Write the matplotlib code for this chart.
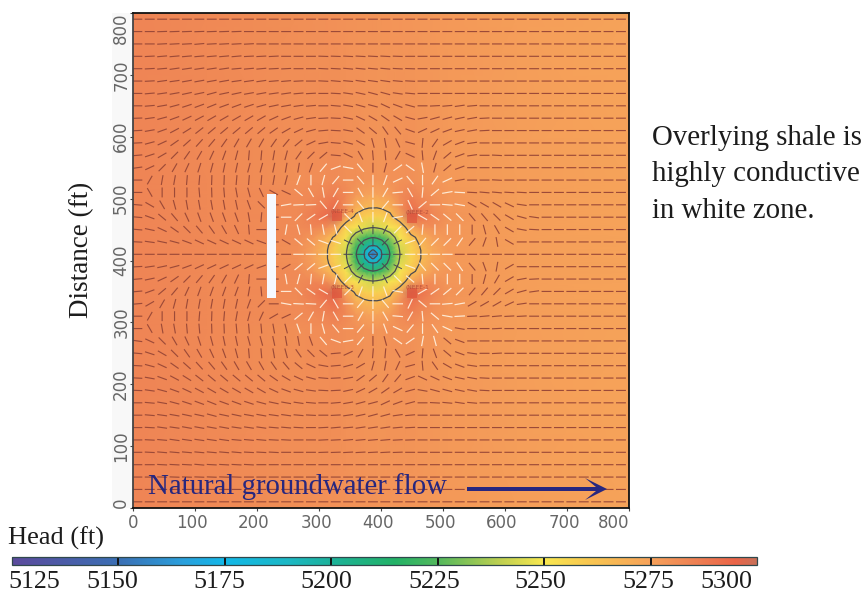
import numpy as np
import matplotlib
matplotlib.use("Agg")
import matplotlib.pyplot as plt
from matplotlib.colors import LinearSegmentedColormap, Normalize
from matplotlib.patches import Rectangle, Polygon
from matplotlib.transforms import ScaledTranslation

W, H = 868, 594
SERIF = "Liberation Serif"
nan = float("nan")

# Axis labels and colour-bar values
tick_values = [0, 100, 200, 300, 400, 500, 600, 700, 800]
head_levels = [5150, 5175, 5200, 5225, 5250, 5275]
head_labels = ["5125", "5150", "5175", "5200", "5225", "5250", "5275", "5300"]
contour_levels = [5172, 5194, 5217, 5242, 5265]

# Colour scale
cmap_heads = [5125, 5150, 5165, 5175, 5190, 5200, 5215, 5225, 5240, 5250, 5260, 5275, 5285, 5295, 5300]
cmap_colors = ["#5b4a9c", "#3a6fb4", "#2a9fdc", "#12b8e8", "#1cb8c4", "#1cb29a", "#22b266", "#52b85c",
               "#c0d050", "#f8e850", "#f8c850", "#f6a25a", "#ee8254", "#ea6448", "#c87058"]

# Head change around the centre well, one quadrant
near_offsets_px = [0, 4, 9, 17, 27, 38, 47, 60, 75]
near_head = [
    [-145, -110, -85, -62, -37, -22, -14, -5, 0],
    [-110, -102, -82, -60, -36, -22, -14, -5, 0],
    [-85, -82, -74, -56, -34, -21, -13, -4, 0],
    [-62, -60, -56, -46, -28, -17, -10, -2, 1],
    [-37, -36, -34, -28, -23, -5, 1, 3, 1],
    [-22, -22, -21, -17, -5, 25, 12, 6, 2],
    [-14, -14, -13, -10, 1, 12, 8, 4, 1],
    [-5, -5, -4, -2, 3, 6, 4, 2, 1],
    [0, 0, 0, 1, 1, 2, 1, 1, 0],
]
ambient_head = [5284, 5282.6, 5280.9, 5280.6, 5280.4, 5280.2, 5280, 5279.8, 5279.7, 5279.6, 5279.5,
                5279.4, 5279.3, 5279.1, 5278.9, 5278.6, 5278.4, 5278.1, 5277.8, 5276.2, 5274.5]

# Flow-line direction (degrees) on the 20-ft grid, rows top to centre
angle_rows = [
    [],
    [0, 0, 2, 2, 2, 2, 2, 2, 2],
    [0, 0, 3, 3, 3, 5, 3, 3, 3, 3],
    [0, 3, 5, 5, 5, 5, 5, 5, 5, 3, 3, 3, 0, 0, 0, -2, -2, -3, -3, -3, -3, -2],
    [0, 3, 5, 8, 8, 8, 8, 8, 5, 5, 5, 3, 3, 0, 0, -3, -3, -5, -5, -5, -5, -3, -2],
    [0, 3, 8, 8, 10, 10, 10, 10, 8, 8, 8, 5, 5, 3, 0, -3, -5, -5, -8, -8, -8, -5, -3],
    [0, 5, 8, 10, 12, 12, 15, 12, 12, 10, 10, 8, 8, 5, 3, 0, -3, -8, -12, -15, -15, -8, -5, 0],
    [0, 5, 10, 15, 18, 20, 22, 20, 20, 18, 15, 12, 10, 8, 5, 0, -5, -10, -15, -15, -25, -20, -15, 0, 3, 5, 8, 5],
    [2, 8, 15, 20, 25, 28, 30, 30, 30, 30, 30, 25, 20, 15, 8, 3, -3, -12, -25, -30, -35, -30, -15, 10, 15, 15, 12, 10, 3],
    [3, 10, 20, 28, 32, 38, 40, 40, 40, 40, 40, 35, 30, 25, 15, 5, -3, -10, -35, -40, -55, -50, -20, 25, 25, 20, 12, 10, 3],
    [3, 15, 25, 35, 42, 48, 50, 55, 60, 60, 60, 55, 50, 40, 25, 10, -5, -15, -30, -75, -80, -65, -15, 85, 55, 30, 20, 8],
    [5, 18, 30, 45, 55, 60, 65, 70, 75, 85, 85, 80, 75, 55, 45, 40, -5, -25, -60, -85, -85, 60, -25, -85, 70, 40, 20, 8, 0, -3],
    [8, 25, 45, 60, 65, 72, 75, 78, 78, 75, 75, 78, 80, 80, 70, 50, 20, -10, -50, -90, 75, 35, -35, -80, 75, 40, 20],
    [0, 60, 80, 80, 85, 85, 88, 88, 85, 85, 85, 80, 75, 70, 90, 75, 50, 0, -50, 90, 70, 25, -50, 90, 55, 25, 10, 0, 0, -3],
    [0, -60, 90, 90, 90, -85, -88, -85, -80, -75, -65, -30, -25, -40, -60, -80, 60, 0, -60, 90, 60, 5, -60, 85, 40, 10, -3, -3, -5, -5, -3, -3],
    [-5, -30, -60, -75, -80, -80, -80, -80, -78, -70, -45, 0, 10, 3, 3, -50, 60, 0, -50, 90, 50, 0, -65, 40, 0, -5, -10, -30, -30, -30, -25, -8],
    [-5, -20, -40, -50, -65, -70, -70, -70, -70, -80, 85, 0, 0, 45, 35, 30, nan, -45, -70, 90, 70, 10, nan, -30, -35, -40, -45, -50, -50, -45, -30, -15, -8],
    [-5, -12, -25, -35, -45, -50, -55, -60, -65, -85, 0, 0, 80, -75, -85, -80, -75, -45, -63, 90, 63, 45, 40, 85, 90, 90, -90, -90, -75, -60, -30, -10, -3],
    [-3, -8, -12, -15, -20, -25, -25, -25, -25, -25, -20, 0, -30, -40, -40, -20, -18, -27, -45, 90, 45, 27, 20, 50, 45, 45, 55, 50, 70, -80, -30, 0],
]

# Feature locations in feet
well_xy = [(329, 472), (450, 469), (329, 348), (450, 348)]
well_names = ["(NEEE-4", "(NEEE-2", "(NEEE-3", "(NEEE-1"]
centre_xy = (387, 410)
wall_x = (216, 231)
wall_y = (339, 508)

fig = plt.figure(figsize=(W / 100, H / 100), dpi=100, facecolor="white")


def pxbox(x0, y0, x1, y1):
    return [x0 / W, 1 - y1 / H, (x1 - x0) / W, (y1 - y0) / H]


def ftext(x, y, s, **kw):
    kw.setdefault("family", SERIF)
    kw.setdefault("color", "#1c1c1c")
    return fig.text(x / W, 1 - y / H, s, **kw)


# Faint label background
fig.add_artist(Rectangle((112 / W, 1 - 508 / H), 20 / W, 495 / H, transform=fig.transFigure,
                         facecolor="#f8f8f8", edgecolor="none", zorder=0))

ax = fig.add_axes(pxbox(133, 13, 629, 508))
ax.set_xlim(0, 800)
ax.set_ylim(0, 800)

stops = [(v - cmap_heads[0]) / (cmap_heads[-1] - cmap_heads[0]) for v in cmap_heads]
cmap = LinearSegmentedColormap.from_list("head", list(zip(stops, cmap_colors)), N=1024)
norm = Normalize(cmap_heads[0], cmap_heads[-1])

# Head surface
ft_per_px = 800 / 496
off = np.array(near_offsets_px) * ft_per_px
signed = np.r_[-off[:0:-1], off]
x_nodes = np.r_[0, 120, centre_xy[0] + signed, 620, 800]
y_nodes = np.r_[0, centre_xy[1] + signed, 800]
q = np.array(near_head, float)
top = np.vstack([q[:0:-1], q])
full = np.hstack([top[:, :0:-1], top])
full = np.pad(full, ((1, 1), (2, 2)))
Z = full + np.array(ambient_head)[None, :]
ax.pcolormesh(x_nodes, y_nodes, Z, cmap=cmap, norm=norm, shading="gouraud", zorder=1)
ax.contour(x_nodes, y_nodes, Z, levels=contour_levels, colors="#4a4a52", linewidths=0.9, zorder=3)

# Well squares
ax.scatter([p[0] for p in well_xy], [p[1] for p in well_xy], marker="s", s=55, color="#e2553c",
           alpha=0.75, linewidths=0, zorder=2)

# Flow lines
rows = [r + [0] * (40 - len(r)) for r in angle_rows]
upper = np.array(rows, float)
middle = np.zeros((1, 40))
lower = -upper[::-1]
bottom = np.zeros((1, 40))
angles = np.vstack([upper, middle, lower, bottom])
gx = 7 + 20 * np.arange(40)
gy = 790 - 20 * np.arange(40)
GX, GY = np.meshgrid(gx, gy)
dist_well = np.min([np.hypot(GX - a, GY - b) for a, b in well_xy], axis=0)
dist_centre = np.hypot(GX - centre_xy[0], GY - centre_xy[1])
white = dist_well < 88
dark = dist_centre < 48
groups = [(~white & ~dark, "#9c4a38", 16, 1.15, 1.0), (white & ~dark, "#fff3e2", 17, 1.2, 0.9),
          (dark, "#4a4a52", 15, 1.0, 1.0)]
for mask, col, length, lw, alpha in groups:
    th = np.radians(angles[mask])
    qv = ax.quiver(GX[mask], GY[mask], length * np.cos(th), length * np.sin(th), angles="xy", scale_units="xy",
                   scale=1, pivot="mid", color=col, alpha=alpha, units="dots", width=lw, headwidth=1, headlength=0,
                   headaxislength=0, zorder=4)
    qv.set_snap(False)

# Well labels
for (a, b), name in zip(well_xy, well_names):
    ax.text(a + 8, b + 8, name, fontsize=4.2, color="#b8503c", ha="center", va="center", zorder=5)

# Conductive-zone marker
ax.add_patch(Rectangle((wall_x[0], wall_y[0]), wall_x[1] - wall_x[0], wall_y[1] - wall_y[0],
                       facecolor="#f6f9ff", edgecolor="none", zorder=6))

# Axes styling
for name, sp in ax.spines.items():
    sp.set_linewidth(1.3)
    sp.set_color("#111111" if name != "left" else "#444444")
    sp.set_zorder(8)
ax.set_xticks(tick_values)
ax.set_yticks(tick_values)
ax.set_xticklabels([str(v) for v in tick_values], fontsize=12, color="#666666")
ax.set_yticklabels([str(v) for v in tick_values], fontsize=12, color="#666666", rotation=90, va="center")
ax.tick_params(axis="x", length=2, width=0.8, color="#444444", pad=2)
ax.tick_params(axis="y", length=2, width=0.8, color="#444444", pad=0)
ax.get_xticklabels()[-1].set_ha("right")
ax.get_yticklabels()[-1].set_va("top")
ax.get_yticklabels()[0].set_va("bottom")
for lab in ax.get_xticklabels()[1:-1]:
    lab.set_transform(lab.get_transform() + ScaledTranslation(-3 / 100, 0, fig.dpi_scale_trans))

# Natural-flow annotation
ftext(148, 487, "Natural groundwater flow", fontsize=20.7, color="#27277f", va="center", ha="left", zorder=10)
arrow_px = [(467, 487), (596, 487), (585, 478), (607, 489), (585, 500), (596, 491), (467, 491)]
fig.add_artist(Polygon([(x / W, 1 - y / H) for x, y in arrow_px], closed=True, transform=fig.transFigure,
                       facecolor="#27277f", edgecolor="none", zorder=10))

ftext(82, 250, "Distance (ft)", fontsize=19.5, rotation=90, ha="center", va="center")
ftext(8, 538, "Head (ft)", fontsize=19, ha="left", va="center")
for y, line in zip([138, 174, 211], ["Overlying shale is", "highly conductive", "in white zone."]):
    ftext(652, y, line, fontsize=20.8, ha="left", va="center")

# Colour bar
cax = fig.add_axes(pxbox(12, 557, 757, 565))
sm = plt.cm.ScalarMappable(norm=norm, cmap=cmap)
cb = fig.colorbar(sm, cax=cax, orientation="horizontal")
cb.outline.set_edgecolor("#30484c")
cb.outline.set_linewidth(0.9)
cb.set_ticks([])
for v in head_levels:
    cax.axvline(v, color="#141414", lw=1.4)
label_x = [(8, "left"), (112, "center"), (219, "center"), (326, "center"), (434, "center"),
           (540, "center"), (648, "center"), (752, "right")]
for (x, ha), s in zip(label_x, head_labels):
    ftext(x, 582, s, fontsize=18.7, ha=ha, va="center")

fig.savefig("out.png", dpi=100, facecolor="white")
